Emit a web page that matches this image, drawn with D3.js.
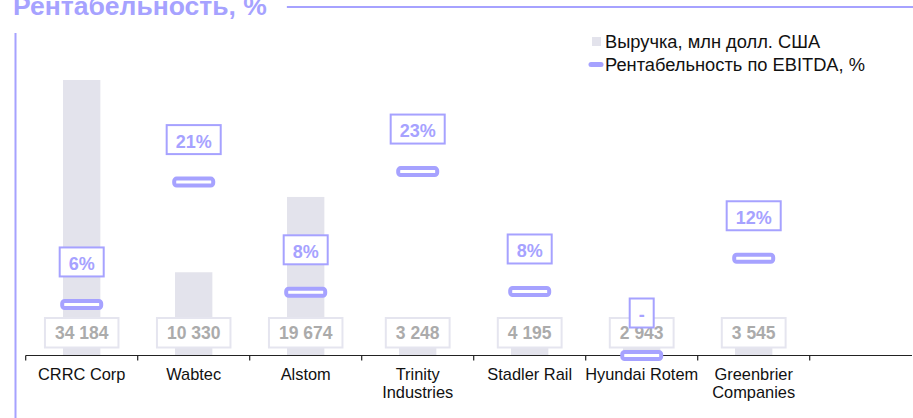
<!DOCTYPE html>
<html>
<head>
<meta charset="utf-8">
<script src="https://cdn.jsdelivr.net/npm/d3@7"></script>
<style>
    body { margin: 0; background: #fff; }
    svg { display: block; font-family: Arial, "Liberation Sans", sans-serif; }
</style>
</head>
<body>
<div id="main"></div>
<script>
// данные
var categories = ["CRRC Corp", "Wabtec", "Alstom", "Trinity\nIndustries", "Stadler Rail", "Hyundai Rotem", "Greenbrier\nCompanies"];
var revenue = [34184, 10330, 19674, 3248, 4195, 2943, 3545];
var revenueLabels = ["34 184", "10 330", "19 674", "3 248", "4 195", "2 943", "3 545"];
var margin = [6.3, 21.4, 7.8, 22.7, 7.9, 0, 12.0];
var marginLabels = ["6%", "21%", "8%", "23%", "8%", "-", "12%"];
var legendLabels = ["Выручка, млн долл. США", "Рентабельность по EBITDA, %"];
var title = "Рентабельность, %";

var purple = "#a6a2ff";
var barColor = "#e3e3ec";

var chart = (function () {
    function chart() {
        this.width = 913;
        this.height = 418;
        this.axisY = 355.5;
        this.svg = d3.select('#main').append('svg')
            .attr('width', this.width).attr('height', this.height);

        this.xScale = d3.scaleBand().domain(categories).range([25.7, 809.7]);
        this.yScale = d3.scaleLinear().domain([0, d3.max(revenue)]).range([this.axisY, 80]);
        this.mScale = d3.scaleLinear().domain([0, 34]).range([this.axisY, 80]);
        this.data = categories.map(function (c, i) {
            return {cat: c, rev: revenue[i], revLabel: revenueLabels[i], m: margin[i], mLabel: marginLabels[i]};
        });

        this.drawFrame();
        this.drawBars();
        this.drawAxis();
        this.drawRevenueLabels();
        this.drawMargin();
        this.drawLegend();
    }

    chart.prototype.drawFrame = function () {
        // заголовок обрезан сверху, как в исходнике
        var t = this.svg.append('text')
            .attr('x', 13).attr('y', 15)
            .attr('fill', purple)
            .attr('font-size', 26.5).attr('font-weight', 'bold')
            .text(title);
        var tw = t.node().getComputedTextLength();
        this.svg.append('line')
            .attr('x1', 13 + tw + 20).attr('x2', this.width)
            .attr('y1', 7).attr('y2', 7)
            .attr('stroke', purple).attr('stroke-width', 2);
        this.svg.append('line')
            .attr('x1', 15.5).attr('x2', 15.5)
            .attr('y1', 33).attr('y2', this.height)
            .attr('stroke', purple).attr('stroke-width', 2);
    };

    chart.prototype.drawBars = function () {
        var that = this;
        var bw = this.xScale.bandwidth() / 3;
        this.svg.append('g').selectAll('rect').data(this.data).enter()
            .append('rect')
            .attr('x', function (d) { return that.xScale(d.cat) + that.xScale.bandwidth() / 2 - bw / 2; })
            .attr('y', function (d) { return that.yScale(d.rev); })
            .attr('width', bw)
            .attr('height', function (d) { return that.axisY - that.yScale(d.rev); })
            .attr('fill', barColor);
    };

    chart.prototype.drawAxis = function () {
        var that = this;
        var g = this.svg.append('g').attr('transform', 'translate(0,' + this.axisY + ')');
        g.append('line').attr('x1', 25.7).attr('x2', 912)
            .attr('stroke', '#222').attr('stroke-width', 1.2);
        var edges = categories.map(function (c) { return that.xScale(c); });
        edges.push(this.xScale.range()[1]);
        g.selectAll('.tick').data(edges).enter().append('line')
            .attr('x1', function (d) { return d; }).attr('x2', function (d) { return d; })
            .attr('y1', 0).attr('y2', 5)
            .attr('stroke', '#222').attr('stroke-width', 1.2);

        var xAxis = d3.axisBottom(this.xScale).tickSize(0).tickPadding(0);
        var ax = g.append('g').call(xAxis);
        ax.select('.domain').remove();
        ax.selectAll('.tick text').remove();
        ax.selectAll('.tick').each(function (d) {
            var lines = d.split('\n');
            var txt = d3.select(this).append('text')
                .attr('fill', '#111').attr('font-size', 16.4)
                .attr('text-anchor', 'middle');
            lines.forEach(function (l, i) {
                txt.append('tspan').attr('x', 0).attr('y', 24.5 + i * 18).text(l);
            });
        });
    };

    chart.prototype.drawRevenueLabels = function () {
        var that = this;
        var g = this.svg.append('g');
        this.data.forEach(function (d) {
            var cx = that.xScale(d.cat) + that.xScale.bandwidth() / 2;
            var gg = g.append('g');
            var rect = gg.append('rect');
            var t = gg.append('text')
                .attr('x', cx).attr('y', 339.3)
                .attr('text-anchor', 'middle')
                .attr('font-size', 17.5).attr('font-weight', 'bold')
                .attr('fill', '#ababab')
                .text(d.revLabel);
            var w = t.node().getComputedTextLength() + 20;
            rect.attr('x', cx - w / 2).attr('y', 318)
                .attr('width', w).attr('height', 29.5)
                .attr('fill', '#fff')
                .attr('stroke', '#e5e5ef').attr('stroke-width', 2);
        });
    };

    chart.prototype.drawMargin = function () {
        var that = this;
        var g = this.svg.append('g');
        this.data.forEach(function (d) {
            var cx = that.xScale(d.cat) + that.xScale.bandwidth() / 2;
            var cy = that.mScale(d.m);
            g.append('rect')
                .attr('x', cx - 19.5).attr('y', cy - 3.5)
                .attr('width', 39).attr('height', 7)
                .attr('rx', 2.5)
                .attr('fill', '#fff')
                .attr('stroke', purple).attr('stroke-width', 4);
        });
        this.data.forEach(function (d) {
            var cx = that.xScale(d.cat) + that.xScale.bandwidth() / 2;
            var cy = that.mScale(d.m) - 42.5;
            var gg = g.append('g');
            var rect = gg.append('rect');
            var t = gg.append('text')
                .attr('x', cx).attr('y', cy + 8)
                .attr('text-anchor', 'middle')
                .attr('font-size', 18).attr('font-weight', 'bold')
                .attr('fill', purple)
                .text(d.mLabel);
            var w = t.node().getComputedTextLength() + 18;
            rect.attr('x', cx - w / 2).attr('y', cy - 14.5)
                .attr('width', w).attr('height', 29)
                .attr('fill', '#fff')
                .attr('stroke', purple).attr('stroke-width', 2);
        });
    };

    chart.prototype.drawLegend = function () {
        var g = this.svg.append('g');
        g.append('rect').attr('x', 592).attr('y', 37).attr('width', 9).attr('height', 9)
            .attr('fill', barColor);
        g.append('line').attr('x1', 591).attr('x2', 601).attr('y1', 64.5).attr('y2', 64.5)
            .attr('stroke', purple).attr('stroke-width', 5).attr('stroke-linecap', 'round');
        g.selectAll('text').data(legendLabels).enter().append('text')
            .attr('x', 605)
            .attr('y', function (d, i) { return 47.5 + i * 23; })
            .attr('font-size', 18.3).attr('fill', '#111')
            .text(function (d) { return d; });
    };

    return chart;
})();

new chart();
</script>
</body>
</html>
